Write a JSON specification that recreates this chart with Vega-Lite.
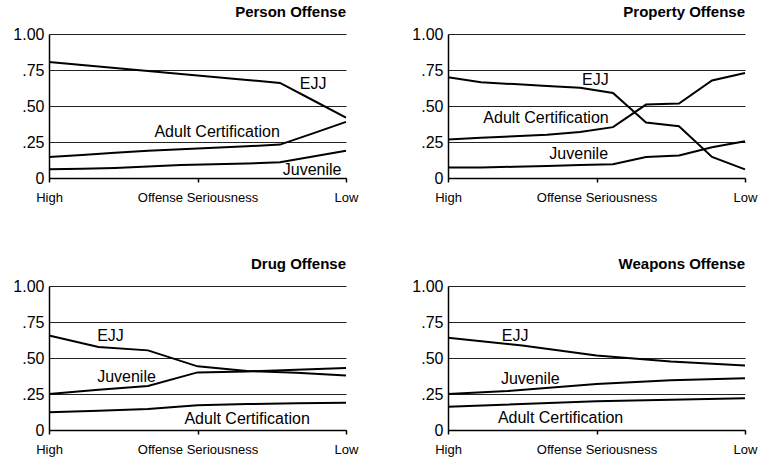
{
  "$schema": "https://vega.github.io/schema/vega-lite/v6.json",
  "padding": {"left": 12, "top": 5, "right": 5, "bottom": 5},
  "background": "white",
  "data": {"values": [
    {"panel": "Person Offense", "kind": "line", "series": "EJJ", "x": 0, "y": 0.805},
    {"panel": "Person Offense", "kind": "line", "series": "EJJ", "x": 0.1111, "y": 0.784},
    {"panel": "Person Offense", "kind": "line", "series": "EJJ", "x": 0.2222, "y": 0.764},
    {"panel": "Person Offense", "kind": "line", "series": "EJJ", "x": 0.3333, "y": 0.743},
    {"panel": "Person Offense", "kind": "line", "series": "EJJ", "x": 0.4444, "y": 0.722},
    {"panel": "Person Offense", "kind": "line", "series": "EJJ", "x": 0.5556, "y": 0.702},
    {"panel": "Person Offense", "kind": "line", "series": "EJJ", "x": 0.6667, "y": 0.681},
    {"panel": "Person Offense", "kind": "line", "series": "EJJ", "x": 0.7778, "y": 0.66},
    {"panel": "Person Offense", "kind": "line", "series": "EJJ", "x": 0.8889, "y": 0.54},
    {"panel": "Person Offense", "kind": "line", "series": "EJJ", "x": 1, "y": 0.42},
    {"panel": "Person Offense", "kind": "line", "series": "Adult", "x": 0, "y": 0.145},
    {"panel": "Person Offense", "kind": "line", "series": "Adult", "x": 0.1111, "y": 0.16},
    {"panel": "Person Offense", "kind": "line", "series": "Adult", "x": 0.2222, "y": 0.175},
    {"panel": "Person Offense", "kind": "line", "series": "Adult", "x": 0.3333, "y": 0.19},
    {"panel": "Person Offense", "kind": "line", "series": "Adult", "x": 0.4444, "y": 0.2},
    {"panel": "Person Offense", "kind": "line", "series": "Adult", "x": 0.5556, "y": 0.21},
    {"panel": "Person Offense", "kind": "line", "series": "Adult", "x": 0.6667, "y": 0.22},
    {"panel": "Person Offense", "kind": "line", "series": "Adult", "x": 0.7778, "y": 0.232},
    {"panel": "Person Offense", "kind": "line", "series": "Adult", "x": 0.8889, "y": 0.31},
    {"panel": "Person Offense", "kind": "line", "series": "Adult", "x": 1, "y": 0.39},
    {"panel": "Person Offense", "kind": "line", "series": "Juvenile", "x": 0, "y": 0.06},
    {"panel": "Person Offense", "kind": "line", "series": "Juvenile", "x": 0.1111, "y": 0.065},
    {"panel": "Person Offense", "kind": "line", "series": "Juvenile", "x": 0.2222, "y": 0.07},
    {"panel": "Person Offense", "kind": "line", "series": "Juvenile", "x": 0.3333, "y": 0.08},
    {"panel": "Person Offense", "kind": "line", "series": "Juvenile", "x": 0.4444, "y": 0.09},
    {"panel": "Person Offense", "kind": "line", "series": "Juvenile", "x": 0.5556, "y": 0.095},
    {"panel": "Person Offense", "kind": "line", "series": "Juvenile", "x": 0.6667, "y": 0.1},
    {"panel": "Person Offense", "kind": "line", "series": "Juvenile", "x": 0.7778, "y": 0.11},
    {"panel": "Person Offense", "kind": "line", "series": "Juvenile", "x": 0.8889, "y": 0.15},
    {"panel": "Person Offense", "kind": "line", "series": "Juvenile", "x": 1, "y": 0.19},
    {"panel": "Property Offense", "kind": "line", "series": "EJJ", "x": 0, "y": 0.7},
    {"panel": "Property Offense", "kind": "line", "series": "EJJ", "x": 0.1111, "y": 0.665},
    {"panel": "Property Offense", "kind": "line", "series": "EJJ", "x": 0.2222, "y": 0.652},
    {"panel": "Property Offense", "kind": "line", "series": "EJJ", "x": 0.3333, "y": 0.639},
    {"panel": "Property Offense", "kind": "line", "series": "EJJ", "x": 0.4444, "y": 0.626},
    {"panel": "Property Offense", "kind": "line", "series": "EJJ", "x": 0.5556, "y": 0.59},
    {"panel": "Property Offense", "kind": "line", "series": "EJJ", "x": 0.6667, "y": 0.385},
    {"panel": "Property Offense", "kind": "line", "series": "EJJ", "x": 0.7778, "y": 0.36},
    {"panel": "Property Offense", "kind": "line", "series": "EJJ", "x": 0.8889, "y": 0.146},
    {"panel": "Property Offense", "kind": "line", "series": "EJJ", "x": 1, "y": 0.06},
    {"panel": "Property Offense", "kind": "line", "series": "Adult", "x": 0, "y": 0.267},
    {"panel": "Property Offense", "kind": "line", "series": "Adult", "x": 0.1111, "y": 0.28},
    {"panel": "Property Offense", "kind": "line", "series": "Adult", "x": 0.2222, "y": 0.29},
    {"panel": "Property Offense", "kind": "line", "series": "Adult", "x": 0.3333, "y": 0.3},
    {"panel": "Property Offense", "kind": "line", "series": "Adult", "x": 0.4444, "y": 0.32},
    {"panel": "Property Offense", "kind": "line", "series": "Adult", "x": 0.5556, "y": 0.353},
    {"panel": "Property Offense", "kind": "line", "series": "Adult", "x": 0.6667, "y": 0.51},
    {"panel": "Property Offense", "kind": "line", "series": "Adult", "x": 0.7778, "y": 0.517},
    {"panel": "Property Offense", "kind": "line", "series": "Adult", "x": 0.8889, "y": 0.677},
    {"panel": "Property Offense", "kind": "line", "series": "Adult", "x": 1, "y": 0.729},
    {"panel": "Property Offense", "kind": "line", "series": "Juvenile", "x": 0, "y": 0.073},
    {"panel": "Property Offense", "kind": "line", "series": "Juvenile", "x": 0.1111, "y": 0.073},
    {"panel": "Property Offense", "kind": "line", "series": "Juvenile", "x": 0.2222, "y": 0.078},
    {"panel": "Property Offense", "kind": "line", "series": "Juvenile", "x": 0.3333, "y": 0.083},
    {"panel": "Property Offense", "kind": "line", "series": "Juvenile", "x": 0.4444, "y": 0.09},
    {"panel": "Property Offense", "kind": "line", "series": "Juvenile", "x": 0.5556, "y": 0.096},
    {"panel": "Property Offense", "kind": "line", "series": "Juvenile", "x": 0.6667, "y": 0.146},
    {"panel": "Property Offense", "kind": "line", "series": "Juvenile", "x": 0.7778, "y": 0.157},
    {"panel": "Property Offense", "kind": "line", "series": "Juvenile", "x": 0.8889, "y": 0.214},
    {"panel": "Property Offense", "kind": "line", "series": "Juvenile", "x": 1, "y": 0.255},
    {"panel": "Drug Offense", "kind": "line", "series": "EJJ", "x": 0, "y": 0.656},
    {"panel": "Drug Offense", "kind": "line", "series": "EJJ", "x": 0.1667, "y": 0.577},
    {"panel": "Drug Offense", "kind": "line", "series": "EJJ", "x": 0.3333, "y": 0.553},
    {"panel": "Drug Offense", "kind": "line", "series": "EJJ", "x": 0.5, "y": 0.442},
    {"panel": "Drug Offense", "kind": "line", "series": "EJJ", "x": 0.6667, "y": 0.41},
    {"panel": "Drug Offense", "kind": "line", "series": "EJJ", "x": 0.8333, "y": 0.398},
    {"panel": "Drug Offense", "kind": "line", "series": "EJJ", "x": 1, "y": 0.378},
    {"panel": "Drug Offense", "kind": "line", "series": "Juvenile", "x": 0, "y": 0.25},
    {"panel": "Drug Offense", "kind": "line", "series": "Juvenile", "x": 0.1667, "y": 0.28},
    {"panel": "Drug Offense", "kind": "line", "series": "Juvenile", "x": 0.3333, "y": 0.305},
    {"panel": "Drug Offense", "kind": "line", "series": "Juvenile", "x": 0.5, "y": 0.4},
    {"panel": "Drug Offense", "kind": "line", "series": "Juvenile", "x": 0.6667, "y": 0.407},
    {"panel": "Drug Offense", "kind": "line", "series": "Juvenile", "x": 0.8333, "y": 0.418},
    {"panel": "Drug Offense", "kind": "line", "series": "Juvenile", "x": 1, "y": 0.43},
    {"panel": "Drug Offense", "kind": "line", "series": "Adult", "x": 0, "y": 0.123},
    {"panel": "Drug Offense", "kind": "line", "series": "Adult", "x": 0.1667, "y": 0.134},
    {"panel": "Drug Offense", "kind": "line", "series": "Adult", "x": 0.3333, "y": 0.145},
    {"panel": "Drug Offense", "kind": "line", "series": "Adult", "x": 0.5, "y": 0.172},
    {"panel": "Drug Offense", "kind": "line", "series": "Adult", "x": 0.6667, "y": 0.18},
    {"panel": "Drug Offense", "kind": "line", "series": "Adult", "x": 0.8333, "y": 0.185},
    {"panel": "Drug Offense", "kind": "line", "series": "Adult", "x": 1, "y": 0.19},
    {"panel": "Weapons Offense", "kind": "line", "series": "EJJ", "x": 0, "y": 0.64},
    {"panel": "Weapons Offense", "kind": "line", "series": "EJJ", "x": 0.25, "y": 0.587},
    {"panel": "Weapons Offense", "kind": "line", "series": "EJJ", "x": 0.5, "y": 0.517},
    {"panel": "Weapons Offense", "kind": "line", "series": "EJJ", "x": 0.75, "y": 0.476},
    {"panel": "Weapons Offense", "kind": "line", "series": "EJJ", "x": 1, "y": 0.448},
    {"panel": "Weapons Offense", "kind": "line", "series": "Juvenile", "x": 0, "y": 0.25},
    {"panel": "Weapons Offense", "kind": "line", "series": "Juvenile", "x": 0.2, "y": 0.27},
    {"panel": "Weapons Offense", "kind": "line", "series": "Juvenile", "x": 0.5, "y": 0.32},
    {"panel": "Weapons Offense", "kind": "line", "series": "Juvenile", "x": 0.75, "y": 0.345},
    {"panel": "Weapons Offense", "kind": "line", "series": "Juvenile", "x": 1, "y": 0.36},
    {"panel": "Weapons Offense", "kind": "line", "series": "Adult", "x": 0, "y": 0.162},
    {"panel": "Weapons Offense", "kind": "line", "series": "Adult", "x": 0.5, "y": 0.2},
    {"panel": "Weapons Offense", "kind": "line", "series": "Adult", "x": 1, "y": 0.22},
    {"panel": "Person Offense", "kind": "label", "label": "EJJ", "x": 0.889, "y": 0.65},
    {"panel": "Person Offense", "kind": "label", "label": "Adult Certification", "x": 0.566, "y": 0.32},
    {"panel": "Person Offense", "kind": "label", "label": "Juvenile", "x": 0.886, "y": 0.053},
    {"panel": "Property Offense", "kind": "label", "label": "EJJ", "x": 0.496, "y": 0.68},
    {"panel": "Property Offense", "kind": "label", "label": "Adult Certification", "x": 0.33, "y": 0.415},
    {"panel": "Property Offense", "kind": "label", "label": "Juvenile", "x": 0.44, "y": 0.17},
    {"panel": "Drug Offense", "kind": "label", "label": "EJJ", "x": 0.207, "y": 0.656},
    {"panel": "Drug Offense", "kind": "label", "label": "Juvenile", "x": 0.261, "y": 0.369},
    {"panel": "Drug Offense", "kind": "label", "label": "Adult Certification", "x": 0.667, "y": 0.079},
    {"panel": "Weapons Offense", "kind": "label", "label": "EJJ", "x": 0.226, "y": 0.65},
    {"panel": "Weapons Offense", "kind": "label", "label": "Juvenile", "x": 0.277, "y": 0.355},
    {"panel": "Weapons Offense", "kind": "label", "label": "Adult Certification", "x": 0.379, "y": 0.081}
  ]},
  "facet": {
    "field": "panel",
    "type": "nominal",
    "sort": ["Person Offense", "Property Offense", "Drug Offense", "Weapons Offense"],
    "header": {
      "title": null,
      "labelAnchor": "end",
      "labelFont": "Liberation Sans",
      "labelFontWeight": "bold",
      "labelFontSize": 15,
      "labelColor": "black",
      "labelPadding": 6
    }
  },
  "columns": 2,
  "spacing": {"column": 53, "row": 53},
  "resolve": {"axis": {"x": "independent", "y": "independent"}},
  "spec": {
    "width": 297,
    "height": 144,
    "encoding": {
      "x": {
        "field": "x", "type": "quantitative",
        "scale": {"domain": [0, 1], "nice": false},
        "axis": {
          "title": null, "values": [0, 0.5, 1], "grid": false,
          "labelExpr": "datum.value == 0 ? 'High' : datum.value == 1 ? 'Low' : 'Offense Seriousness'",
          "labelFlush": false, "labelOverlap": false, "labelFont": "Liberation Sans", "labelFontSize": 13,
          "labelColor": "black", "labelPadding": 9,
          "domainColor": "black", "domainWidth": 1.5,
          "tickColor": "black", "tickSize": 4, "tickWidth": 1.5
        }
      },
      "y": {
        "field": "y", "type": "quantitative",
        "scale": {"domain": [0, 1], "nice": false},
        "axis": {
          "title": null, "values": [0, 0.25, 0.5, 0.75, 1], "tickCount": 5,
          "labelExpr": "datum.value == 0 ? '0' : datum.value == 1 ? '1.00' : slice(format(datum.value, '.2f'), 1)",
          "labelOverlap": false, "labelFlush": false,
          "labelFont": "Liberation Sans", "labelFontSize": 16, "labelColor": "black",
          "labelPadding": 5, "ticks": false,
          "domainColor": "black", "domainWidth": 1.5,
          "grid": true, "gridColor": "#222", "gridWidth": 1.2
        }
      }
    },
    "layer": [
      {
        "transform": [{"filter": "datum.kind == 'line'"}],
        "mark": {"type": "line", "color": "black", "strokeWidth": 2},
        "encoding": {
          "detail": {"field": "series"},
          "order": {"field": "x", "type": "quantitative"}
        }
      },
      {
        "transform": [{"filter": "datum.kind == 'label'"}],
        "mark": {"type": "text", "font": "Liberation Sans", "fontSize": 16, "color": "black", "align": "center", "baseline": "middle"},
        "encoding": {
          "text": {"field": "label"}
        }
      }
    ]
  },
  "config": {"view": {"stroke": null}}
}
